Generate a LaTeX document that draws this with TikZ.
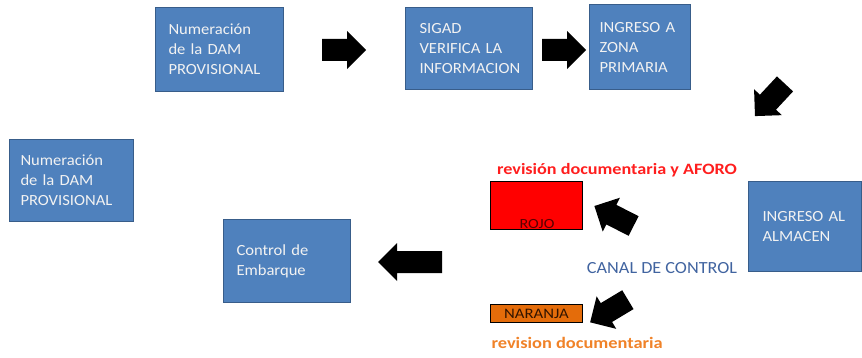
\documentclass[tikz,border=0pt]{standalone}
\usepackage{fontspec}
\setmainfont[FakeStretch=1.07]{Carlito}
\newfontfamily\widefont[FakeStretch=1.15]{Carlito}
\begin{document}
\begin{tikzpicture}[x=1pt,y=1pt,
  stepbox/.style={draw={rgb,255:red,56;green,93;blue,138}, line width=1pt,
    fill={rgb,255:red,79;green,129;blue,189}, anchor=south west,
    text={rgb,255:red,242;green,242;blue,242}, align=left,
    font=\fontsize{15.5}{20}\selectfont, inner ysep=0pt},
  canalbox/.style={draw=black, line width=1pt, anchor=south west, inner sep=0pt},
  pics/blockarrow/.style={code={
     \fill[black] (-#1/2,-11) -- (#1/2-19,-11) -- (#1/2-19,-19)
     -- (#1/2,0) -- (#1/2-19,19) -- (#1/2-19,11) -- (-#1/2,11) -- cycle;}}
]
\useasboundingbox (0,0) rectangle (862,357);

% process boxes
\node[stepbox, minimum width=128, minimum height=84, text width=102, inner xsep=13]
  (dam) at (155,265) {Numeración\\de la DAM\\PROVISIONAL};
\node[stepbox, minimum width=127, minimum height=82, text width=99, inner xsep=14]
  (sigad) at (405,267) {SIGAD\\VERIFICA LA\\INFORMACION};
\node[stepbox, minimum width=101, minimum height=85, text width=81, inner xsep=10]
  (zona) at (589,267) {INGRESO A\\ZONA\\PRIMARIA};
\node[stepbox, minimum width=124, minimum height=82, text width=102, inner xsep=11]
  (dam2) at (9,135) {Numeración\\de la DAM\\PROVISIONAL};
\node[stepbox, minimum width=113, minimum height=90, text width=85, inner xsep=14]
  (almacen) at (748,85) {INGRESO AL\\ALMACEN};
\node[stepbox, minimum width=127, minimum height=83, text width=101, inner xsep=13]
  (embarque) at (223,54) {Control de\\Embarque};

% control channels
\node[canalbox, fill={rgb,255:red,255;green,0;blue,0}, minimum width=92, minimum height=48]
  (rojo) at (490,127) {};
\node[font=\widefont\fontsize{14}{16}\selectfont, text={rgb,255:red,90;green,0;blue,0}, anchor=base]
  (rojotxt) at (537,129) {ROJO};
\node[canalbox, fill={rgb,255:red,228;green,108;blue,10}, minimum width=92, minimum height=18]
  (naranja) at (490,34) {};
\node[font=\widefont\fontsize{14.5}{16}\selectfont, text={rgb,255:red,50;green,20;blue,0}]
  (naranjalbl) at (naranja.center) {NARANJA};

% captions
\node[font=\widefont\bfseries\fontsize{15.8}{18}\selectfont, text={rgb,255:red,255;green,30;blue,30}]
  (aforo) at (617,187) {revisión documentaria y AFORO};
\node[font=\fontsize{17}{18}\selectfont, text={rgb,255:red,65;green,100;blue,160}]
  (canal) at (662,89) {CANAL DE CONTROL};
\node[font=\widefont\bfseries\fontsize{16}{18}\selectfont, text={rgb,255:red,240;green,130;blue,40}, anchor=west]
  (revdoc) at (488,14) {revision documentaria};

% block arrows
\pic at (344,307) {blockarrow=44};
\pic at (564,307) {blockarrow=44};
\pic[rotate=-133] at (770,257) {blockarrow=44};
\pic[rotate=153] at (614,141) {blockarrow=44};
\pic[rotate=-149] at (609,46) {blockarrow=44};
\pic[rotate=180] at (410,95) {blockarrow=64};
\end{tikzpicture}
\end{document}
